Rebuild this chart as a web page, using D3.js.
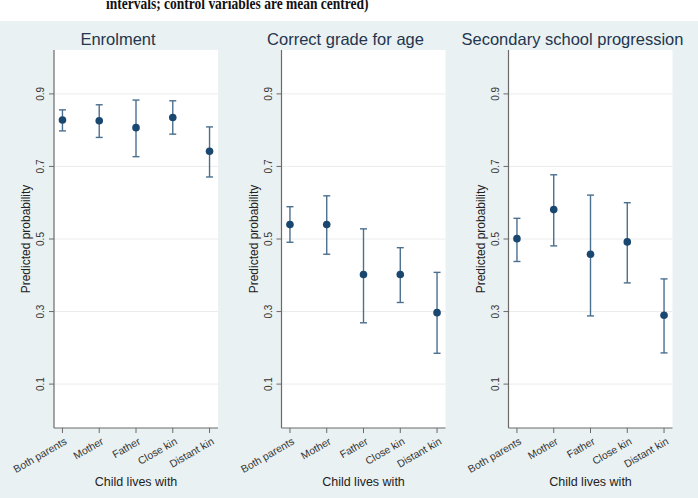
<!DOCTYPE html>
<html>
<head>
<meta charset="utf-8">
<script src="https://cdn.jsdelivr.net/npm/d3@7"></script>
<style>
    html, body { margin: 0; padding: 0; background: #ffffff; }
    svg { display: block; }
    text { font-family: "Liberation Sans", Arial, sans-serif; }
</style>
</head>
<body>
<svg id="chart" width="698" height="498"></svg>
<script>
const categories = ["Both parents", "Mother", "Father", "Close kin", "Distant kin"];
const yTicks = [0.1, 0.3, 0.5, 0.7, 0.9];
const panelTitles = ["Enrolment", "Correct grade for age", "Secondary school progression"];

// predicted probability and 95% interval, per panel
const enrolment = [
    { est: 0.828, lo: 0.798, hi: 0.856 },
    { est: 0.826, lo: 0.780, hi: 0.870 },
    { est: 0.807, lo: 0.727, hi: 0.883 },
    { est: 0.835, lo: 0.789, hi: 0.881 },
    { est: 0.742, lo: 0.671, hi: 0.809 }
];
const correctGrade = [
    { est: 0.540, lo: 0.491, hi: 0.589 },
    { est: 0.540, lo: 0.458, hi: 0.619 },
    { est: 0.402, lo: 0.269, hi: 0.528 },
    { est: 0.402, lo: 0.325, hi: 0.476 },
    { est: 0.297, lo: 0.185, hi: 0.408 }
];
const secondary = [
    { est: 0.501, lo: 0.438, hi: 0.557 },
    { est: 0.581, lo: 0.481, hi: 0.677 },
    { est: 0.458, lo: 0.288, hi: 0.621 },
    { est: 0.492, lo: 0.379, hi: 0.600 },
    { est: 0.290, lo: 0.186, hi: 0.390 }
];
const panelData = [enrolment, correctGrade, secondary];

const svg = d3.select("#chart");

const plotTop = 50;
const plotBottom = 428;
const plotWidth = 164;
const panelLefts = [54, 281.5, 508.5];

const dotColor = "#1a476f";
const barColor = "#4b6f8f";
const axisColor = "#6a6a6a";

// outer graph background
svg.append("rect")
    .attr("x", 0).attr("y", 21)
    .attr("width", 698).attr("height", 477)
    .attr("fill", "#eaf1f2");

// leftover caption line from the page above (top is cropped in the source)
svg.append("text")
    .attr("transform", "translate(106,9) scale(1,1.3)")
    .style("font-family", "'Liberation Serif', 'Times New Roman', serif")
    .style("font-weight", "bold")
    .style("font-size", "13.5px")
    .attr("fill", "#111")
    .text("intervals; control variables are mean centred)");

const y = d3.scaleLinear()
    .domain([-0.021, 1.021])
    .range([plotBottom, plotTop]);

panelData.forEach(function(rows, i) {
    const left = panelLefts[i];
    const g = svg.append("g")
        .attr("transform", "translate(" + left + ",0)");

    const x = d3.scalePoint()
        .domain(categories)
        .range([0, plotWidth])
        .padding(0.23);

    g.append("rect")
        .attr("x", 0).attr("y", plotTop)
        .attr("width", plotWidth).attr("height", plotBottom - plotTop)
        .attr("fill", "#ffffff");

    // gridlines
    g.selectAll(".grid")
        .data(yTicks)
        .enter()
        .append("line")
        .attr("x1", 0).attr("x2", plotWidth)
        .attr("y1", d => y(d)).attr("y2", d => y(d))
        .attr("stroke", "#ececec")
        .attr("stroke-width", 1);

    // y axis
    g.append("line")
        .attr("x1", 0).attr("x2", 0)
        .attr("y1", plotTop).attr("y2", plotBottom)
        .attr("stroke", axisColor).attr("stroke-width", 1.2);

    g.selectAll(".ytick")
        .data(yTicks)
        .enter()
        .append("line")
        .attr("x1", -5).attr("x2", 0)
        .attr("y1", d => y(d)).attr("y2", d => y(d))
        .attr("stroke", axisColor);

    g.selectAll(".ylab")
        .data(yTicks)
        .enter()
        .append("text")
        .attr("transform", d => "translate(-10," + y(d) + ") rotate(-90)")
        .attr("text-anchor", "middle")
        .style("font-size", "10px")
        .attr("fill", "#333")
        .text(d => d3.format(".1f")(d));

    g.append("text")
        .attr("transform", "translate(-24," + ((plotTop + plotBottom) / 2) + ") rotate(-90)")
        .attr("text-anchor", "middle")
        .style("font-size", "12px")
        .attr("fill", "#222")
        .text("Predicted probability");

    // x axis
    g.append("line")
        .attr("x1", 0).attr("x2", plotWidth)
        .attr("y1", plotBottom).attr("y2", plotBottom)
        .attr("stroke", axisColor).attr("stroke-width", 1.2);

    g.selectAll(".xtick")
        .data(categories)
        .enter()
        .append("line")
        .attr("x1", d => x(d)).attr("x2", d => x(d))
        .attr("y1", plotBottom).attr("y2", plotBottom + 5)
        .attr("stroke", axisColor);

    g.selectAll(".xlab")
        .data(categories)
        .enter()
        .append("text")
        .attr("transform", d => "translate(" + (x(d) + 1.5) + "," + (plotBottom + 9) + ") rotate(-30)")
        .attr("text-anchor", "end")
        .attr("dy", "0.7em")
        .style("font-size", "10.5px")
        .attr("fill", "#333")
        .text(d => d);

    g.append("text")
        .attr("x", plotWidth / 2)
        .attr("y", 486)
        .attr("text-anchor", "middle")
        .style("font-size", "12.5px")
        .attr("fill", "#222")
        .text("Child lives with");

    // panel title
    g.append("text")
        .attr("x", plotWidth / 2 - 18)
        .attr("y", 45)
        .attr("text-anchor", "middle")
        .style("font-size", "16.5px")
        .attr("fill", "#23354f")
        .text(panelTitles[i]);

    // error bars
    const bars = g.selectAll(".bar")
        .data(rows)
        .enter()
        .append("g");

    bars.append("line")
        .attr("x1", (d, j) => x(categories[j])).attr("x2", (d, j) => x(categories[j]))
        .attr("y1", d => y(d.lo)).attr("y2", d => y(d.hi))
        .attr("stroke", barColor).attr("stroke-width", 1.4);

    bars.append("line")
        .attr("x1", (d, j) => x(categories[j]) - 3.5).attr("x2", (d, j) => x(categories[j]) + 3.5)
        .attr("y1", d => y(d.hi)).attr("y2", d => y(d.hi))
        .attr("stroke", barColor).attr("stroke-width", 1.4);

    bars.append("line")
        .attr("x1", (d, j) => x(categories[j]) - 3.5).attr("x2", (d, j) => x(categories[j]) + 3.5)
        .attr("y1", d => y(d.lo)).attr("y2", d => y(d.lo))
        .attr("stroke", barColor).attr("stroke-width", 1.4);

    bars.append("circle")
        .attr("cx", (d, j) => x(categories[j]))
        .attr("cy", d => y(d.est))
        .attr("r", 3.8)
        .attr("fill", dotColor);
});
</script>
</body>
</html>
